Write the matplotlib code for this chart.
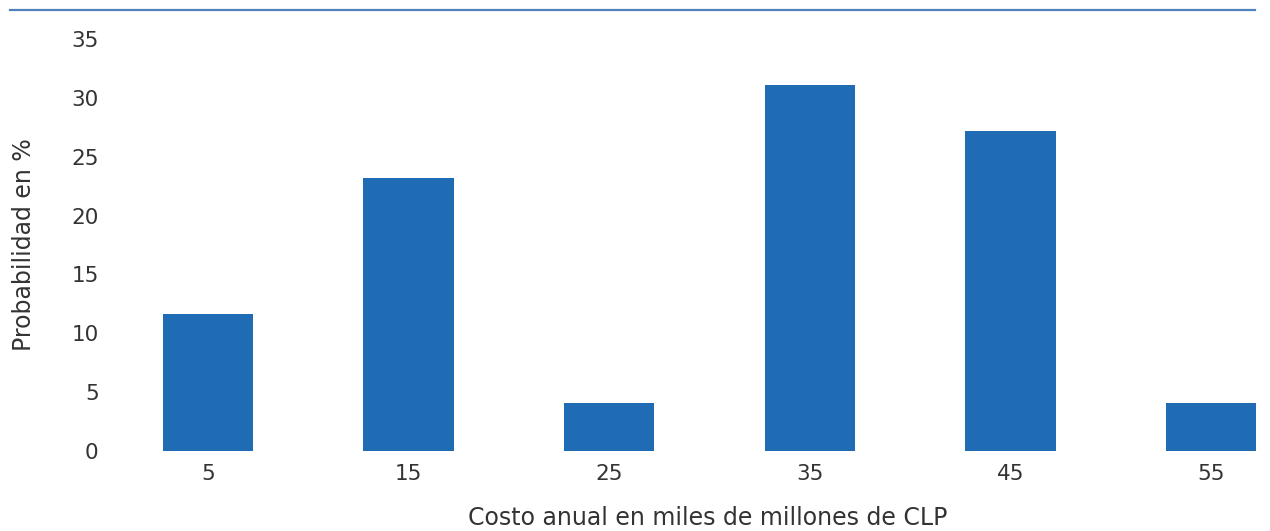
import matplotlib.pyplot as plt
from matplotlib.lines import Line2D

# Cost bins (midpoints, thousand-million CLP) and probability per bin
cost_bins = [5, 15, 25, 35, 45, 55]
probability = [11.6, 23.2, 4.1, 31.1, 27.2, 4.1]
y_ticks = [0, 5, 10, 15, 20, 25, 30, 35]

bar_color = '#1F6BB4'
text_color = '#333333'

plt.rcParams['font.family'] = ['DejaVu Sans']

fig = plt.figure(figsize=(12.7, 5.31), dpi=100)
W, H = 1270, 531

# plot area placed in pixel terms
left_px, right_px = 107.7, 1271.2
bottom_px, top_px = 451, 39
ax = fig.add_axes([left_px / W, 1 - bottom_px / H,
                   (right_px - left_px) / W, (bottom_px - top_px) / H])

ax.bar(cost_bins, probability, width=4.5, color=bar_color)
ax.set_xlim(0, 58)
ax.set_ylim(0, 35)
ax.set_xticks(cost_bins)
ax.set_yticks(y_ticks)
for side in ['top', 'right', 'bottom', 'left']:
    ax.spines[side].set_visible(False)
ax.tick_params(axis='both', length=0, labelsize=15.5, colors=text_color)
ax.tick_params(axis='y', pad=6.5)
ax.tick_params(axis='x', pad=9)

fig.text(708 / W, 1 - 518 / H, 'Costo anual en miles de millones de CLP',
         ha='center', va='center', fontsize=17, color=text_color)
fig.text(24 / W, 1 - 245 / H, 'Probabilidad en %', rotation=90,
         ha='center', va='center', fontsize=17, color=text_color)

# thin rule across the top
fig.add_artist(Line2D([10 / W, 1255 / W], [1 - 10 / H, 1 - 10 / H],
                      color='#4F81BD', linewidth=1.6))

fig.savefig('out.png', dpi=100)
